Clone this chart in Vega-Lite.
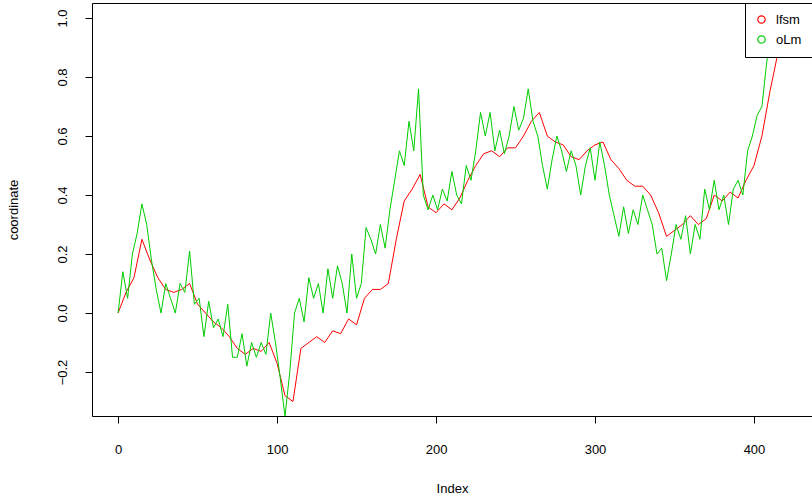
{"$schema":"https://vega.github.io/schema/vega-lite/v6.json","autosize":"none","width":720,"height":413,"padding":{"left":92,"top":3,"right":0,"bottom":86},
"config":{"view":{"stroke":"#000","strokeWidth":1},"font":"Liberation Sans","axis":{"grid":false,"domain":false,"tickColor":"#000","tickSize":7,"labelColor":"#000","titleColor":"#000","labelFontSize":13,"titleFontSize":13,"titleFontWeight":"normal","labelFont":"Liberation Sans","titleFont":"Liberation Sans"}},
"data":{"values":[
{"i":0,"v":0,"s":"lfsm"},{"i":5,"v":0.07,"s":"lfsm"},{"i":10,"v":0.12,"s":"lfsm"},{"i":15,"v":0.25,"s":"lfsm"},{"i":20,"v":0.18,"s":"lfsm"},{"i":25,"v":0.12,"s":"lfsm"},{"i":30,"v":0.08,"s":"lfsm"},{"i":35,"v":0.07,"s":"lfsm"},{"i":40,"v":0.08,"s":"lfsm"},{"i":45,"v":0.1,"s":"lfsm"},{"i":50,"v":0.03,"s":"lfsm"},{"i":55,"v":0,"s":"lfsm"},{"i":60,"v":-0.03,"s":"lfsm"},{"i":65,"v":-0.05,"s":"lfsm"},{"i":70,"v":-0.08,"s":"lfsm"},{"i":75,"v":-0.12,"s":"lfsm"},{"i":80,"v":-0.14,"s":"lfsm"},{"i":85,"v":-0.12,"s":"lfsm"},{"i":90,"v":-0.13,"s":"lfsm"},{"i":95,"v":-0.1,"s":"lfsm"},{"i":100,"v":-0.17,"s":"lfsm"},{"i":105,"v":-0.28,"s":"lfsm"},{"i":110,"v":-0.3,"s":"lfsm"},{"i":115,"v":-0.12,"s":"lfsm"},{"i":120,"v":-0.1,"s":"lfsm"},{"i":125,"v":-0.08,"s":"lfsm"},{"i":130,"v":-0.1,"s":"lfsm"},{"i":135,"v":-0.06,"s":"lfsm"},{"i":140,"v":-0.07,"s":"lfsm"},{"i":145,"v":-0.02,"s":"lfsm"},{"i":150,"v":-0.04,"s":"lfsm"},{"i":155,"v":0.05,"s":"lfsm"},{"i":160,"v":0.08,"s":"lfsm"},{"i":165,"v":0.08,"s":"lfsm"},{"i":170,"v":0.1,"s":"lfsm"},{"i":175,"v":0.25,"s":"lfsm"},{"i":180,"v":0.38,"s":"lfsm"},{"i":185,"v":0.42,"s":"lfsm"},{"i":190,"v":0.47,"s":"lfsm"},{"i":195,"v":0.36,"s":"lfsm"},{"i":200,"v":0.34,"s":"lfsm"},{"i":205,"v":0.37,"s":"lfsm"},{"i":210,"v":0.35,"s":"lfsm"},{"i":215,"v":0.39,"s":"lfsm"},{"i":220,"v":0.45,"s":"lfsm"},{"i":225,"v":0.5,"s":"lfsm"},{"i":230,"v":0.54,"s":"lfsm"},{"i":235,"v":0.55,"s":"lfsm"},{"i":240,"v":0.53,"s":"lfsm"},{"i":245,"v":0.56,"s":"lfsm"},{"i":250,"v":0.56,"s":"lfsm"},{"i":255,"v":0.6,"s":"lfsm"},{"i":260,"v":0.65,"s":"lfsm"},{"i":265,"v":0.68,"s":"lfsm"},{"i":270,"v":0.6,"s":"lfsm"},{"i":275,"v":0.58,"s":"lfsm"},{"i":280,"v":0.57,"s":"lfsm"},{"i":285,"v":0.53,"s":"lfsm"},{"i":290,"v":0.52,"s":"lfsm"},{"i":295,"v":0.55,"s":"lfsm"},{"i":300,"v":0.57,"s":"lfsm"},{"i":305,"v":0.58,"s":"lfsm"},{"i":310,"v":0.52,"s":"lfsm"},{"i":315,"v":0.49,"s":"lfsm"},{"i":320,"v":0.45,"s":"lfsm"},{"i":325,"v":0.43,"s":"lfsm"},{"i":330,"v":0.43,"s":"lfsm"},{"i":335,"v":0.4,"s":"lfsm"},{"i":340,"v":0.34,"s":"lfsm"},{"i":345,"v":0.26,"s":"lfsm"},{"i":350,"v":0.28,"s":"lfsm"},{"i":355,"v":0.3,"s":"lfsm"},{"i":360,"v":0.33,"s":"lfsm"},{"i":365,"v":0.3,"s":"lfsm"},{"i":370,"v":0.32,"s":"lfsm"},{"i":375,"v":0.4,"s":"lfsm"},{"i":380,"v":0.38,"s":"lfsm"},{"i":385,"v":0.41,"s":"lfsm"},{"i":390,"v":0.39,"s":"lfsm"},{"i":395,"v":0.45,"s":"lfsm"},{"i":400,"v":0.5,"s":"lfsm"},{"i":405,"v":0.6,"s":"lfsm"},{"i":410,"v":0.75,"s":"lfsm"},{"i":415,"v":0.88,"s":"lfsm"},{"i":420,"v":1.0,"s":"lfsm"},
{"i":0,"v":0,"s":"oLm"},{"i":3,"v":0.14,"s":"oLm"},{"i":6,"v":0.05,"s":"oLm"},{"i":9,"v":0.2,"s":"oLm"},{"i":12,"v":0.27,"s":"oLm"},{"i":15,"v":0.37,"s":"oLm"},{"i":18,"v":0.3,"s":"oLm"},{"i":21,"v":0.18,"s":"oLm"},{"i":24,"v":0.08,"s":"oLm"},{"i":27,"v":0,"s":"oLm"},{"i":30,"v":0.1,"s":"oLm"},{"i":33,"v":0.05,"s":"oLm"},{"i":36,"v":0,"s":"oLm"},{"i":39,"v":0.1,"s":"oLm"},{"i":42,"v":0.07,"s":"oLm"},{"i":45,"v":0.21,"s":"oLm"},{"i":48,"v":0.03,"s":"oLm"},{"i":51,"v":0.05,"s":"oLm"},{"i":54,"v":-0.08,"s":"oLm"},{"i":57,"v":0.04,"s":"oLm"},{"i":60,"v":-0.05,"s":"oLm"},{"i":63,"v":-0.02,"s":"oLm"},{"i":66,"v":-0.08,"s":"oLm"},{"i":69,"v":0.03,"s":"oLm"},{"i":72,"v":-0.15,"s":"oLm"},{"i":75,"v":-0.15,"s":"oLm"},{"i":78,"v":-0.07,"s":"oLm"},{"i":81,"v":-0.18,"s":"oLm"},{"i":84,"v":-0.1,"s":"oLm"},{"i":87,"v":-0.15,"s":"oLm"},{"i":90,"v":-0.1,"s":"oLm"},{"i":93,"v":-0.14,"s":"oLm"},{"i":96,"v":0,"s":"oLm"},{"i":99,"v":-0.1,"s":"oLm"},{"i":102,"v":-0.22,"s":"oLm"},{"i":105,"v":-0.35,"s":"oLm"},{"i":108,"v":-0.2,"s":"oLm"},{"i":111,"v":0,"s":"oLm"},{"i":114,"v":0.05,"s":"oLm"},{"i":117,"v":-0.03,"s":"oLm"},{"i":120,"v":0.12,"s":"oLm"},{"i":123,"v":0.05,"s":"oLm"},{"i":126,"v":0.1,"s":"oLm"},{"i":129,"v":0,"s":"oLm"},{"i":132,"v":0.15,"s":"oLm"},{"i":135,"v":0.05,"s":"oLm"},{"i":138,"v":0.16,"s":"oLm"},{"i":141,"v":0.1,"s":"oLm"},{"i":144,"v":0,"s":"oLm"},{"i":147,"v":0.2,"s":"oLm"},{"i":150,"v":0.05,"s":"oLm"},{"i":153,"v":0.1,"s":"oLm"},{"i":156,"v":0.29,"s":"oLm"},{"i":159,"v":0.25,"s":"oLm"},{"i":162,"v":0.2,"s":"oLm"},{"i":165,"v":0.3,"s":"oLm"},{"i":168,"v":0.22,"s":"oLm"},{"i":171,"v":0.35,"s":"oLm"},{"i":174,"v":0.45,"s":"oLm"},{"i":177,"v":0.55,"s":"oLm"},{"i":180,"v":0.5,"s":"oLm"},{"i":183,"v":0.65,"s":"oLm"},{"i":186,"v":0.55,"s":"oLm"},{"i":189,"v":0.76,"s":"oLm"},{"i":192,"v":0.4,"s":"oLm"},{"i":195,"v":0.35,"s":"oLm"},{"i":198,"v":0.4,"s":"oLm"},{"i":201,"v":0.35,"s":"oLm"},{"i":204,"v":0.42,"s":"oLm"},{"i":207,"v":0.38,"s":"oLm"},{"i":210,"v":0.48,"s":"oLm"},{"i":213,"v":0.4,"s":"oLm"},{"i":216,"v":0.37,"s":"oLm"},{"i":219,"v":0.5,"s":"oLm"},{"i":222,"v":0.45,"s":"oLm"},{"i":225,"v":0.55,"s":"oLm"},{"i":228,"v":0.68,"s":"oLm"},{"i":231,"v":0.6,"s":"oLm"},{"i":234,"v":0.68,"s":"oLm"},{"i":237,"v":0.55,"s":"oLm"},{"i":240,"v":0.62,"s":"oLm"},{"i":243,"v":0.54,"s":"oLm"},{"i":246,"v":0.6,"s":"oLm"},{"i":249,"v":0.7,"s":"oLm"},{"i":252,"v":0.62,"s":"oLm"},{"i":255,"v":0.66,"s":"oLm"},{"i":258,"v":0.76,"s":"oLm"},{"i":261,"v":0.65,"s":"oLm"},{"i":264,"v":0.6,"s":"oLm"},{"i":267,"v":0.5,"s":"oLm"},{"i":270,"v":0.42,"s":"oLm"},{"i":273,"v":0.52,"s":"oLm"},{"i":276,"v":0.6,"s":"oLm"},{"i":279,"v":0.55,"s":"oLm"},{"i":282,"v":0.48,"s":"oLm"},{"i":285,"v":0.55,"s":"oLm"},{"i":288,"v":0.5,"s":"oLm"},{"i":291,"v":0.4,"s":"oLm"},{"i":294,"v":0.5,"s":"oLm"},{"i":297,"v":0.56,"s":"oLm"},{"i":300,"v":0.45,"s":"oLm"},{"i":303,"v":0.58,"s":"oLm"},{"i":306,"v":0.5,"s":"oLm"},{"i":309,"v":0.4,"s":"oLm"},{"i":312,"v":0.33,"s":"oLm"},{"i":315,"v":0.26,"s":"oLm"},{"i":318,"v":0.36,"s":"oLm"},{"i":321,"v":0.27,"s":"oLm"},{"i":324,"v":0.35,"s":"oLm"},{"i":327,"v":0.3,"s":"oLm"},{"i":330,"v":0.4,"s":"oLm"},{"i":333,"v":0.35,"s":"oLm"},{"i":336,"v":0.3,"s":"oLm"},{"i":339,"v":0.2,"s":"oLm"},{"i":342,"v":0.22,"s":"oLm"},{"i":345,"v":0.11,"s":"oLm"},{"i":348,"v":0.2,"s":"oLm"},{"i":351,"v":0.3,"s":"oLm"},{"i":354,"v":0.25,"s":"oLm"},{"i":357,"v":0.33,"s":"oLm"},{"i":360,"v":0.2,"s":"oLm"},{"i":363,"v":0.3,"s":"oLm"},{"i":366,"v":0.25,"s":"oLm"},{"i":369,"v":0.42,"s":"oLm"},{"i":372,"v":0.35,"s":"oLm"},{"i":375,"v":0.45,"s":"oLm"},{"i":378,"v":0.35,"s":"oLm"},{"i":381,"v":0.4,"s":"oLm"},{"i":384,"v":0.3,"s":"oLm"},{"i":387,"v":0.42,"s":"oLm"},{"i":390,"v":0.45,"s":"oLm"},{"i":393,"v":0.4,"s":"oLm"},{"i":396,"v":0.55,"s":"oLm"},{"i":399,"v":0.6,"s":"oLm"},{"i":402,"v":0.67,"s":"oLm"},{"i":405,"v":0.7,"s":"oLm"},{"i":408,"v":0.85,"s":"oLm"},{"i":411,"v":0.95,"s":"oLm"},{"i":414,"v":1.05,"s":"oLm"}
]},
"mark":{"type":"line","strokeWidth":1,"clip":true},
"encoding":{
"x":{"field":"i","type":"quantitative","title":"Index","scale":{"domain":[-16.4,436.5],"nice":false,"zero":false},"axis":{"values":[0,100,200,300,400],"labelPadding":20,"titlePadding":26}},
"y":{"field":"v","type":"quantitative","title":"coordinate","scale":{"domain":[-0.349,1.051],"nice":false,"zero":false},"axis":{"values":[-0.2,0,0.2,0.4,0.6,0.8,1.0],"format":".1f","labelAngle":-90,"labelAlign":"center","labelBaseline":"bottom","labelPadding":16,"titlePadding":36}},
"color":{"field":"s","type":"nominal","scale":{"domain":["lfsm","oLm"],"range":["#FF0000","#00CD00"]},"legend":{"title":null,"orient":"top-right","offset":0,"symbolType":"circle","symbolFillColor":"transparent","symbolStrokeWidth":1.2,"symbolSize":55,"labelFontSize":13,"labelColor":"#000","strokeColor":"#000","fillColor":"#fff","padding":10,"rowPadding":6,"labelOffset":8,"labelFont":"Liberation Sans"}},
"order":{"field":"i"}}
}
